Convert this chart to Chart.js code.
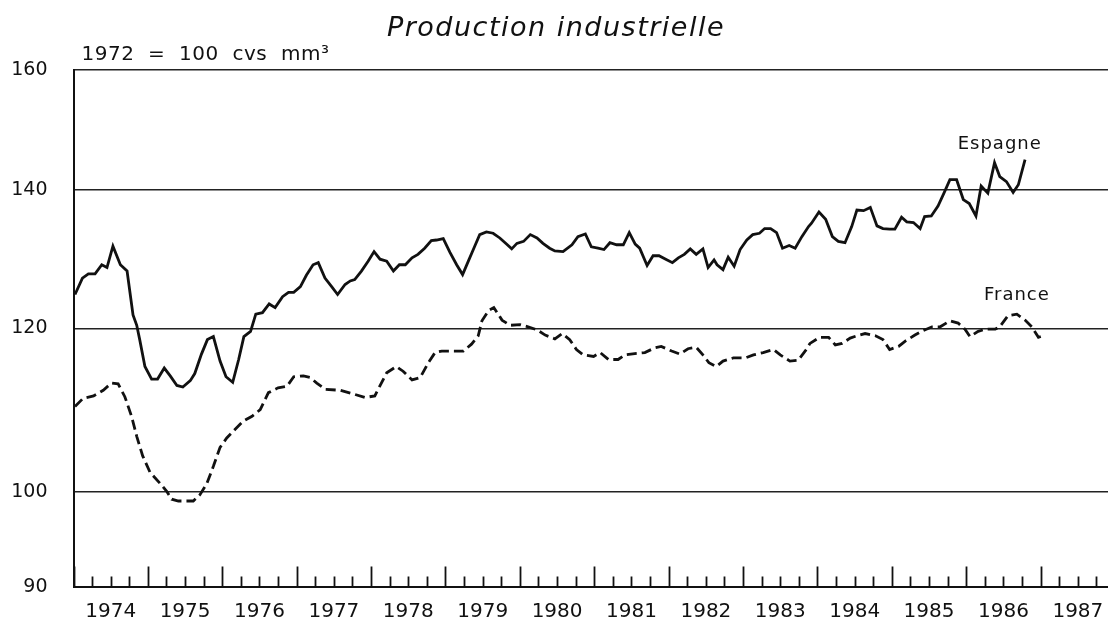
<!DOCTYPE html>
<html>
<head>
<meta charset="utf-8">
<script src="https://cdn.jsdelivr.net/npm/chart.js@4"></script>
<style>
  html, body { margin: 0; padding: 0; background: #fff; overflow: hidden; }
  #wrap { width: 1108px; height: 624px; }
</style>
</head>
<body>
<div id="wrap"><canvas id="line-graph"></canvas></div>
<script>
// industrial production, 1972 = 100, seasonally adjusted, 3-month moving average
const espYears = [1974.02, 1974.12, 1974.20, 1974.29, 1974.38, 1974.45, 1974.53, 1974.63, 1974.72, 1974.80,
  1974.85, 1974.89, 1974.96, 1975.05, 1975.13, 1975.22, 1975.30, 1975.39, 1975.47, 1975.57,
  1975.63, 1975.72, 1975.80, 1975.88, 1975.97, 1976.05, 1976.14, 1976.22, 1976.29, 1976.38,
  1976.45, 1976.54, 1976.63, 1976.71, 1976.81, 1976.89, 1976.96, 1977.05, 1977.13, 1977.22,
  1977.29, 1977.38, 1977.47, 1977.55, 1977.65, 1977.72, 1977.78, 1977.87, 1977.96, 1978.04,
  1978.12, 1978.21, 1978.30, 1978.38, 1978.46, 1978.55, 1978.63, 1978.72, 1978.81, 1978.88,
  1978.97, 1979.06, 1979.15, 1979.23, 1979.31, 1979.39, 1979.46, 1979.55, 1979.64, 1979.73,
  1979.82, 1979.89, 1979.96, 1980.05, 1980.14, 1980.23, 1980.31, 1980.40, 1980.47, 1980.58,
  1980.70, 1980.78, 1980.88, 1980.96, 1981.05, 1981.13, 1981.21, 1981.30, 1981.39, 1981.47,
  1981.55, 1981.61, 1981.71, 1981.79, 1981.87, 1981.96, 1982.05, 1982.13, 1982.21, 1982.29,
  1982.37, 1982.46, 1982.53, 1982.61, 1982.65, 1982.73, 1982.80, 1982.88, 1982.96, 1983.05,
  1983.13, 1983.22, 1983.29, 1983.37, 1983.45, 1983.53, 1983.62, 1983.70, 1983.79, 1983.88,
  1983.92, 1984.02, 1984.11, 1984.20, 1984.28, 1984.37, 1984.46, 1984.53, 1984.62, 1984.71,
  1984.80, 1984.88, 1984.97, 1985.04, 1985.13, 1985.20, 1985.29, 1985.38, 1985.44, 1985.53,
  1985.62, 1985.70, 1985.78, 1985.87, 1985.96, 1986.04, 1986.13, 1986.20, 1986.29, 1986.38,
  1986.45, 1986.54, 1986.63, 1986.70, 1986.79];
const espValues = [124.6, 126.9, 127.5, 127.5, 128.8, 128.4, 131.5, 128.8, 127.9, 121.8,
  120.4, 118.5, 115.0, 113.4, 113.4, 114.8, 113.8, 112.6, 112.4, 113.2,
  114.1, 116.6, 118.5, 118.9, 115.7, 113.7, 113.0, 115.9, 118.9, 119.6,
  121.9, 122.1, 123.3, 122.8, 124.3, 124.9, 124.9, 125.7, 127.3, 128.8,
  129.1, 126.9, 125.7, 124.6, 126.0, 126.5, 126.7, 127.9, 129.3, 130.7,
  129.6, 129.3, 127.9, 128.8, 128.8, 129.8, 130.3, 131.2, 132.3, 132.4,
  132.6, 130.6, 128.8, 127.4, 129.4, 131.4, 133.2, 133.6, 133.4, 132.7,
  131.8, 131.1, 131.9, 132.2, 133.2, 132.7, 131.9, 131.2, 130.8, 130.7,
  131.7, 132.9, 133.3, 131.4, 131.2, 131.0, 132.0, 131.7, 131.7, 133.5,
  131.8, 131.2, 128.7, 130.1, 130.1, 129.6, 129.1, 129.8, 130.3, 131.1,
  130.3, 131.1, 128.4, 129.5, 128.8, 128.1, 129.9, 128.6, 131.0, 132.4,
  133.2, 133.4, 134.1, 134.1, 133.5, 131.2, 131.6, 131.2, 132.9, 134.4,
  134.9, 136.6, 135.5, 132.9, 132.2, 132.0, 134.4, 136.9, 136.8, 137.3,
  134.5, 134.1, 134.0, 134.0, 135.8, 135.1, 135.0, 134.1, 135.9, 136.0,
  137.5, 139.5, 141.6, 141.6, 138.5, 137.9, 136.0, 140.6, 139.5, 144.3,
  142.1, 141.3, 139.6, 140.8, 144.8];

const fraYears = [1974.02, 1974.13, 1974.27, 1974.40, 1974.51, 1974.60, 1974.69, 1974.78, 1974.85, 1974.93,
  1975.03, 1975.16, 1975.25, 1975.32, 1975.41, 1975.50, 1975.61, 1975.70, 1975.79, 1975.88,
  1975.97, 1976.06, 1976.17, 1976.28, 1976.40, 1976.51, 1976.62, 1976.75, 1976.87, 1976.96,
  1977.09, 1977.18, 1977.27, 1977.39, 1977.58, 1977.74, 1977.92, 1978.05, 1978.21, 1978.34,
  1978.43, 1978.55, 1978.66, 1978.77, 1978.86, 1978.95, 1979.10, 1979.24, 1979.35, 1979.44,
  1979.49, 1979.58, 1979.65, 1979.76, 1979.87, 1980.00, 1980.11, 1980.23, 1980.34, 1980.47,
  1980.57, 1980.67, 1980.76, 1980.85, 1980.99, 1981.08, 1981.19, 1981.32, 1981.41, 1981.57,
  1981.68, 1981.81, 1981.90, 1982.04, 1982.15, 1982.26, 1982.37, 1982.46, 1982.54, 1982.64,
  1982.73, 1982.87, 1983.03, 1983.14, 1983.27, 1983.41, 1983.50, 1983.63, 1983.74, 1983.85,
  1983.90, 1984.03, 1984.15, 1984.24, 1984.33, 1984.44, 1984.53, 1984.64, 1984.78, 1984.88,
  1984.97, 1985.09, 1985.18, 1985.31, 1985.40, 1985.54, 1985.65, 1985.78, 1985.89, 1985.98,
  1986.05, 1986.16, 1986.27, 1986.39, 1986.45, 1986.56, 1986.68, 1986.79, 1986.88, 1986.97,
  1987.06];
const fraValues = [110.0, 111.0, 111.3, 112.0, 112.9, 112.8, 111.2, 108.8, 106.4, 104.1,
  102.2, 101.0, 100.1, 99.2, 99.0, 99.0, 99.0, 99.7, 100.9, 102.9,
  105.1, 106.2, 107.2, 108.2, 108.8, 109.6, 111.7, 112.3, 112.5, 113.7,
  113.8, 113.6, 112.9, 112.1, 112.0, 111.6, 111.1, 111.3, 114.2, 115.0,
  114.4, 113.3, 113.6, 115.5, 116.8, 117.0, 117.0, 117.0, 117.9, 119.0,
  121.0, 122.4, 122.8, 121.1, 120.4, 120.5, 120.2, 119.8, 119.1, 118.6,
  119.3, 118.5, 117.2, 116.5, 116.3, 116.8, 115.9, 115.9, 116.5, 116.7,
  116.8, 117.4, 117.6, 117.0, 116.6, 117.3, 117.5, 116.5, 115.5, 115.0,
  115.7, 116.1, 116.1, 116.5, 116.8, 117.2, 116.5, 115.7, 115.8, 117.2,
  118.0, 118.8, 118.8, 117.8, 118.0, 118.7, 119.0, 119.3, 119.0, 118.5,
  117.2, 117.6, 118.3, 119.1, 119.6, 120.2, 120.2, 121.0, 120.7, 119.9,
  118.9, 119.6, 119.9, 119.9, 120.2, 121.7, 121.9, 121.1, 120.2, 118.8,
  119.1];

const yearLabels = [1974, 1975, 1976, 1977, 1978, 1979, 1980, 1981, 1982, 1983, 1984, 1985, 1986, 1987];
const yTicks = [90, 100, 120, 140, 160];

const toPoints = (xs, ys) => xs.map((x, i) => ({ x: x, y: ys[i] }));

// title, unit note, series names and the quarterly tick marks
const decorations = {
    id: 'decorations',
    afterDraw(chart) {
        const ctx = chart.ctx;
        const area = chart.chartArea;
        const xs = chart.scales.x;
        const ys = chart.scales.y;
        ctx.save();
        ctx.fillStyle = '#111';
        ctx.strokeStyle = '#111';

        ctx.textAlign = 'center';
        ctx.textBaseline = 'alphabetic';
        ctx.letterSpacing = '1.5px';
        ctx.font = 'italic 27px "DejaVu Sans"';
        ctx.fillText('Production industrielle', 556, 36);

        ctx.textAlign = 'left';
        ctx.letterSpacing = '0.5px';
        ctx.font = '20px "DejaVu Sans"';
        ctx.fillText('1972  =  100  cvs  mm\u00b3', area.left + 8, 60);

        ctx.textAlign = 'center';
        ctx.textBaseline = 'middle';
        ctx.font = '18px "DejaVu Sans"';
        ctx.letterSpacing = '1px';
        ctx.fillText('Espagne', xs.getPixelForValue(1986.45), ys.getPixelForValue(147.3));
        ctx.fillText('France', xs.getPixelForValue(1986.68), ys.getPixelForValue(124.5));

        ctx.lineWidth = 1.8;
        ctx.beginPath();
        for (let q = yearLabels[0] * 4; q <= (yearLabels[yearLabels.length - 1] + 0.75) * 4; q++) {
            const px = Math.round(xs.getPixelForValue(q / 4)) + 0.5;
            const len = q % 4 === 0 ? 20 : 10;
            ctx.moveTo(px, area.bottom);
            ctx.lineTo(px, area.bottom - len);
        }
        ctx.stroke();
        ctx.restore();
    }
};

let data = {
    datasets: [
        {
            label: 'Espagne',
            data: toPoints(espYears, espValues),
            borderColor: '#111',
            borderWidth: 2.8,
            fill: false,
            tension: 0,
            pointRadius: 0
        },
        {
            label: 'France',
            data: toPoints(fraYears, fraValues),
            borderColor: '#111',
            borderWidth: 2.8,
            borderDash: [10, 5],
            fill: false,
            tension: 0,
            pointRadius: 0
        }
    ]
};

let options = {
    responsive: true,
    maintainAspectRatio: false,
    animation: false,
    layout: { padding: { top: 70, left: 11, right: 0, bottom: 0 } },
    plugins: {
        legend: { display: false },
        title: { display: false },
        tooltip: { enabled: false }
    },
    scales: {
        x: {
            type: 'linear',
            min: 1974,
            max: 1987.905,
            afterBuildTicks: (scale) => {
                scale.ticks = yearLabels.map(y => ({ value: y + 0.5 }));
            },
            afterFit: (scale) => {
                scale.height = 37;
                scale.paddingLeft = 0;
                scale.paddingRight = 0;
            },
            ticks: {
                autoSkip: false,
                maxRotation: 0,
                padding: 13,
                color: '#111',
                font: { family: 'DejaVu Sans', size: 20 },
                callback: (v) => String(Math.floor(v))
            },
            grid: { drawOnChartArea: false, drawTicks: false },
            border: { display: true, color: '#111', width: 2 }
        },
        y: {
            type: 'logarithmic',
            min: 90,
            max: 160,
            afterBuildTicks: (scale) => {
                scale.ticks = yTicks.map(v => ({ value: v }));
            },
            afterFit: (scale) => {
                scale.width = 62.5;
            },
            ticks: {
                padding: 26,
                color: '#111',
                font: { family: 'DejaVu Sans', size: 19 },
                callback: (v) => String(v)
            },
            grid: { color: '#222', lineWidth: 1.6, drawTicks: false },
            border: { display: true, color: '#111', width: 2 }
        }
    }
};

new Chart(document.getElementById('line-graph').getContext('2d'), {
    type: 'line',
    data: data,
    options: options,
    plugins: [decorations]
});
</script>
</body>
</html>
